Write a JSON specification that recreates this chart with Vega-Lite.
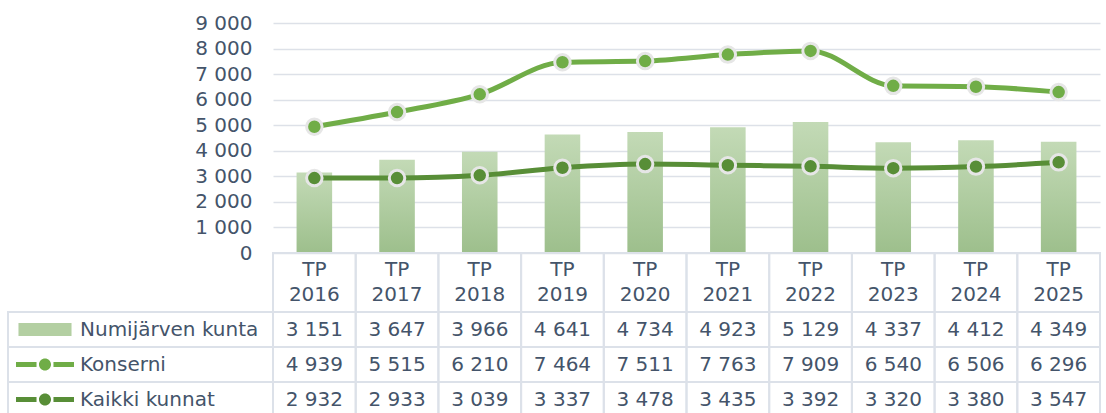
{
  "$schema": "https://vega.github.io/schema/vega-lite/v6.json",
  "padding": {"left": 7, "top": 13, "right": 5, "bottom": 0},
  "background": "white",
  "data": {"values": [
    {"year": "TP 2016", "series": "Numijärven kunta", "value": 3151},
    {"year": "TP 2017", "series": "Numijärven kunta", "value": 3647},
    {"year": "TP 2018", "series": "Numijärven kunta", "value": 3966},
    {"year": "TP 2019", "series": "Numijärven kunta", "value": 4641},
    {"year": "TP 2020", "series": "Numijärven kunta", "value": 4734},
    {"year": "TP 2021", "series": "Numijärven kunta", "value": 4923},
    {"year": "TP 2022", "series": "Numijärven kunta", "value": 5129},
    {"year": "TP 2023", "series": "Numijärven kunta", "value": 4337},
    {"year": "TP 2024", "series": "Numijärven kunta", "value": 4412},
    {"year": "TP 2025", "series": "Numijärven kunta", "value": 4349},
    {"year": "TP 2016", "series": "Konserni", "value": 4939},
    {"year": "TP 2017", "series": "Konserni", "value": 5515},
    {"year": "TP 2018", "series": "Konserni", "value": 6210},
    {"year": "TP 2019", "series": "Konserni", "value": 7464},
    {"year": "TP 2020", "series": "Konserni", "value": 7511},
    {"year": "TP 2021", "series": "Konserni", "value": 7763},
    {"year": "TP 2022", "series": "Konserni", "value": 7909},
    {"year": "TP 2023", "series": "Konserni", "value": 6540},
    {"year": "TP 2024", "series": "Konserni", "value": 6506},
    {"year": "TP 2025", "series": "Konserni", "value": 6296},
    {"year": "TP 2016", "series": "Kaikki kunnat", "value": 2932},
    {"year": "TP 2017", "series": "Kaikki kunnat", "value": 2933},
    {"year": "TP 2018", "series": "Kaikki kunnat", "value": 3039},
    {"year": "TP 2019", "series": "Kaikki kunnat", "value": 3337},
    {"year": "TP 2020", "series": "Kaikki kunnat", "value": 3478},
    {"year": "TP 2021", "series": "Kaikki kunnat", "value": 3435},
    {"year": "TP 2022", "series": "Kaikki kunnat", "value": 3392},
    {"year": "TP 2023", "series": "Kaikki kunnat", "value": 3320},
    {"year": "TP 2024", "series": "Kaikki kunnat", "value": 3380},
    {"year": "TP 2025", "series": "Kaikki kunnat", "value": 3547}
  ]},
  "columns": 2,
  "spacing": 0,
  "align": "each",
  "bounds": "flush",
  "concat": [
    {
      "width": 265, "height": 230,
      "transform": [{"filter": "false"}],
      "mark": {"type": "rect", "opacity": 0},
      "encoding": {}
    },
    {
      "width": 827, "height": 230,
      "encoding": {
        "x": {"field": "year", "type": "nominal", "sort": null, "scale": {"paddingInner": 0, "paddingOuter": 0}, "axis": null},
        "y": {"field": "value", "type": "quantitative", "scale": {"domain": [0, 9000], "nice": false},
          "axis": {"values": [0, 1000, 2000, 3000, 4000, 5000, 6000, 7000, 8000, 9000], "format": ",.0f",
            "labelFontSize": 20, "labelColor": "#44546a", "labelPadding": 21, "labelOverlap": false, "ticks": false, "domain": false,
            "grid": true, "gridColor": "#dde1e8", "gridWidth": 1.5, "title": null}}
      },
      "layer": [
        {
          "transform": [{"filter": "datum.series === 'Numijärven kunta'"}],
          "mark": {"type": "bar", "width": {"band": 0.43},
            "color": {"gradient": "linear", "x1": 0, "y1": 0, "x2": 0, "y2": 1,
              "stops": [{"offset": 0, "color": "#c3dab6"}, {"offset": 1, "color": "#9dbf8c"}]}}
        },
        {
          "transform": [{"filter": "datum.series !== 'Numijärven kunta'"}],
          "mark": {"type": "line", "strokeWidth": 5, "interpolate": "monotone"},
          "encoding": {
            "color": {"field": "series", "type": "nominal",
              "scale": {"domain": ["Numijärven kunta", "Konserni", "Kaikki kunnat"], "range": ["#b3cfa2", "#70ad47", "#588e37"]},
              "legend": {
                "orient": "none", "legendX": 27, "legendY": 296.5, "title": null, "direction": "vertical",
                "padding": 0, "symbolSize": 196, "symbolStrokeWidth": 0, "rowPadding": 15, "labelOffset": 25,
                "labelFontSize": 20, "labelColor": "#44546a", "labelLimit": 400,
                "encode": {"symbols": {"update": {
                  "shape": {"signal": "datum.value === 'Numijärven kunta' ? 'M-3.79,-0.93L3.79,-0.93L3.79,0.93L-3.79,0.93Z' : 'M-4.14,-0.36L-1.21,-0.36L-1.21,0.36L-4.14,0.36ZM1.21,-0.36L4.14,-0.36L4.14,0.36L1.21,0.36ZM-0.86,0A0.86,0.86,0,1,0,0.86,0A0.86,0.86,0,1,0,-0.86,0Z'"},
                  "fill": {"signal": "scale('color', datum.value)"},
                  "strokeWidth": {"value": 0},
                  "opacity": {"value": 1}
                }}}
              }
            }
          }
        },
        {
          "transform": [{"filter": "datum.series !== 'Numijärven kunta'"}],
          "mark": {"type": "point", "filled": true, "size": 240, "stroke": "#e6e6e6", "strokeWidth": 3, "opacity": 1},
          "encoding": {
            "color": {"field": "series", "type": "nominal"}
          }
        }
      ]
    },
    {
      "width": 265, "height": 59,
      "transform": [{"filter": "false"}],
      "mark": {"type": "rect", "opacity": 0},
      "encoding": {}
    },
    {
      "width": 827, "height": 59,
      "transform": [{"filter": "datum.series === 'Numijärven kunta'"}],
      "encoding": {
        "x": {"field": "year", "type": "nominal", "sort": null, "scale": {"paddingInner": 0, "paddingOuter": 0}, "axis": null}
      },
      "layer": [
        {"mark": {"type": "rect", "fillOpacity": 0, "stroke": "#dce1e9", "strokeWidth": 2}},
        {"mark": {"type": "text", "lineBreak": " ", "lineHeight": 25, "fontSize": 20, "fill": "#44546a", "baseline": "middle", "dy": -12.5},
         "encoding": {"text": {"field": "year"}}}
      ]
    },
    {
      "width": 265, "height": 105,
      "transform": [{"filter": "datum.year === 'TP 2016'"}],
      "mark": {"type": "rect", "fillOpacity": 0, "stroke": "#dce1e9", "strokeWidth": 2},
      "encoding": {
        "y": {"field": "series", "type": "nominal", "sort": ["Numijärven kunta", "Konserni", "Kaikki kunnat"], "scale": {"paddingInner": 0, "paddingOuter": 0}, "axis": null}
      }
    },
    {
      "width": 827, "height": 105,
      "encoding": {
        "x": {"field": "year", "type": "nominal", "sort": null, "scale": {"paddingInner": 0, "paddingOuter": 0}, "axis": null},
        "y": {"field": "series", "type": "nominal", "sort": ["Numijärven kunta", "Konserni", "Kaikki kunnat"], "scale": {"paddingInner": 0, "paddingOuter": 0}, "axis": null}
      },
      "layer": [
        {"mark": {"type": "rect", "fillOpacity": 0, "stroke": "#dce1e9", "strokeWidth": 2}},
        {"mark": {"type": "text", "fontSize": 20, "fill": "#44546a", "baseline": "middle"},
         "encoding": {"text": {"field": "value", "type": "quantitative", "format": ",.0f"}}}
      ]
    }
  ],
  "config": {
    "font": "DejaVu Sans",
    "view": {"stroke": null},
    "locale": {"number": {"decimal": ",", "thousands": " ", "grouping": [3], "currency": ["", " €"]}}
  }
}
